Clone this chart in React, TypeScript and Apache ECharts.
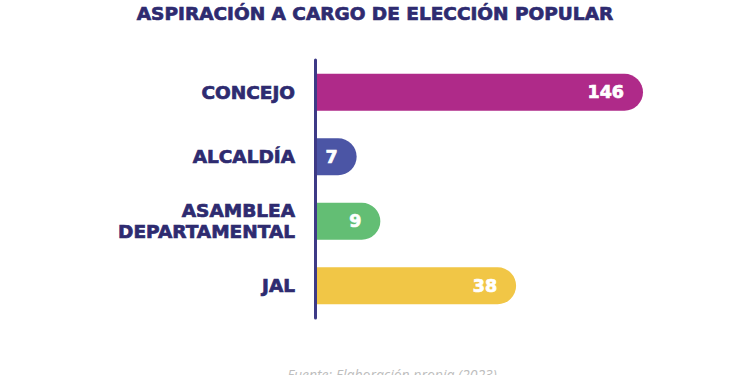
import React, { useEffect, useRef } from "react";
import * as echarts from "echarts";

const titleText = "ASPIRACIÓN A CARGO DE ELECCIÓN POPULAR";
const sourceText = "Fuente: Elaboración propia (2023)";
const categories = ["CONCEJO", "ALCALDÍA", "ASAMBLEA\nDEPARTAMENTAL", "JAL"];
const values = [146, 7, 9, 38];
const barColors = ["#AF2A89", "#4B55A5", "#63BE74", "#F1C646"];

const NAVY = "#2E2B70";
const FONT = "DejaVu Sans";

export default function App() {
  const ref = useRef<HTMLDivElement>(null);
  useEffect(() => {
    if (!ref.current) return;
    const chart = echarts.init(ref.current, undefined, { renderer: "svg" });
    chart.setOption({
      animation: false,
      backgroundColor: "#FFFFFF",
      title: {
        text: titleText,
        left: "center",
        top: 4,
        padding: 0,
        textStyle: {
          fontFamily: FONT,
          fontWeight: "bold",
          fontSize: 18.5,
          color: NAVY,
          textBorderColor: NAVY,
          textBorderWidth: 0.7,
        },
      },
      grid: { left: 315, right: 107, top: 60, bottom: 57, containLabel: false },
      xAxis: {
        type: "log",
        min: 4.5,
        max: 146,
        show: false,
        splitLine: { show: false },
      },
      yAxis: {
        type: "category",
        inverse: true,
        data: categories,
        z: 5,
        axisLine: { show: true, lineStyle: { color: "#3D3A86", width: 3 } },
        axisTick: { show: false },
        axisLabel: {
          margin: 20,
          fontFamily: FONT,
          fontWeight: "bold",
          fontSize: 18.5,
          color: NAVY,
          textBorderColor: NAVY,
          textBorderWidth: 0.7,
          align: "right",
          lineHeight: 21,
        },
      },
      series: [
        {
          type: "bar",
          barWidth: 37,
          clip: true,
          data: values.map((v, i) => ({
            value: v,
            itemStyle: { color: barColors[i], borderRadius: [0, 18.5, 18.5, 0] },
          })),
          label: {
            show: true,
            position: "insideRight",
            distance: 19,
            color: "#FFFFFF",
            textBorderColor: "#FFFFFF",
            textBorderWidth: 0.7,
            fontFamily: FONT,
            fontWeight: "bold",
            fontSize: 17.5,
          },
        },
      ],
      graphic: [
        {
          type: "text",
          x: 392,
          y: 374,
          style: {
            text: sourceText,
            fill: "#BDBDBD",
            font: "italic 14px 'Open Sans'",
            textAlign: "center",
            textVerticalAlign: "middle",
          },
        },
      ],
    });
    return () => chart.dispose();
  }, []);
  return (
    <div
      ref={ref}
      style={{ position: "absolute", left: 0, top: 0, width: 750, height: 375 }}
    />
  );
}
